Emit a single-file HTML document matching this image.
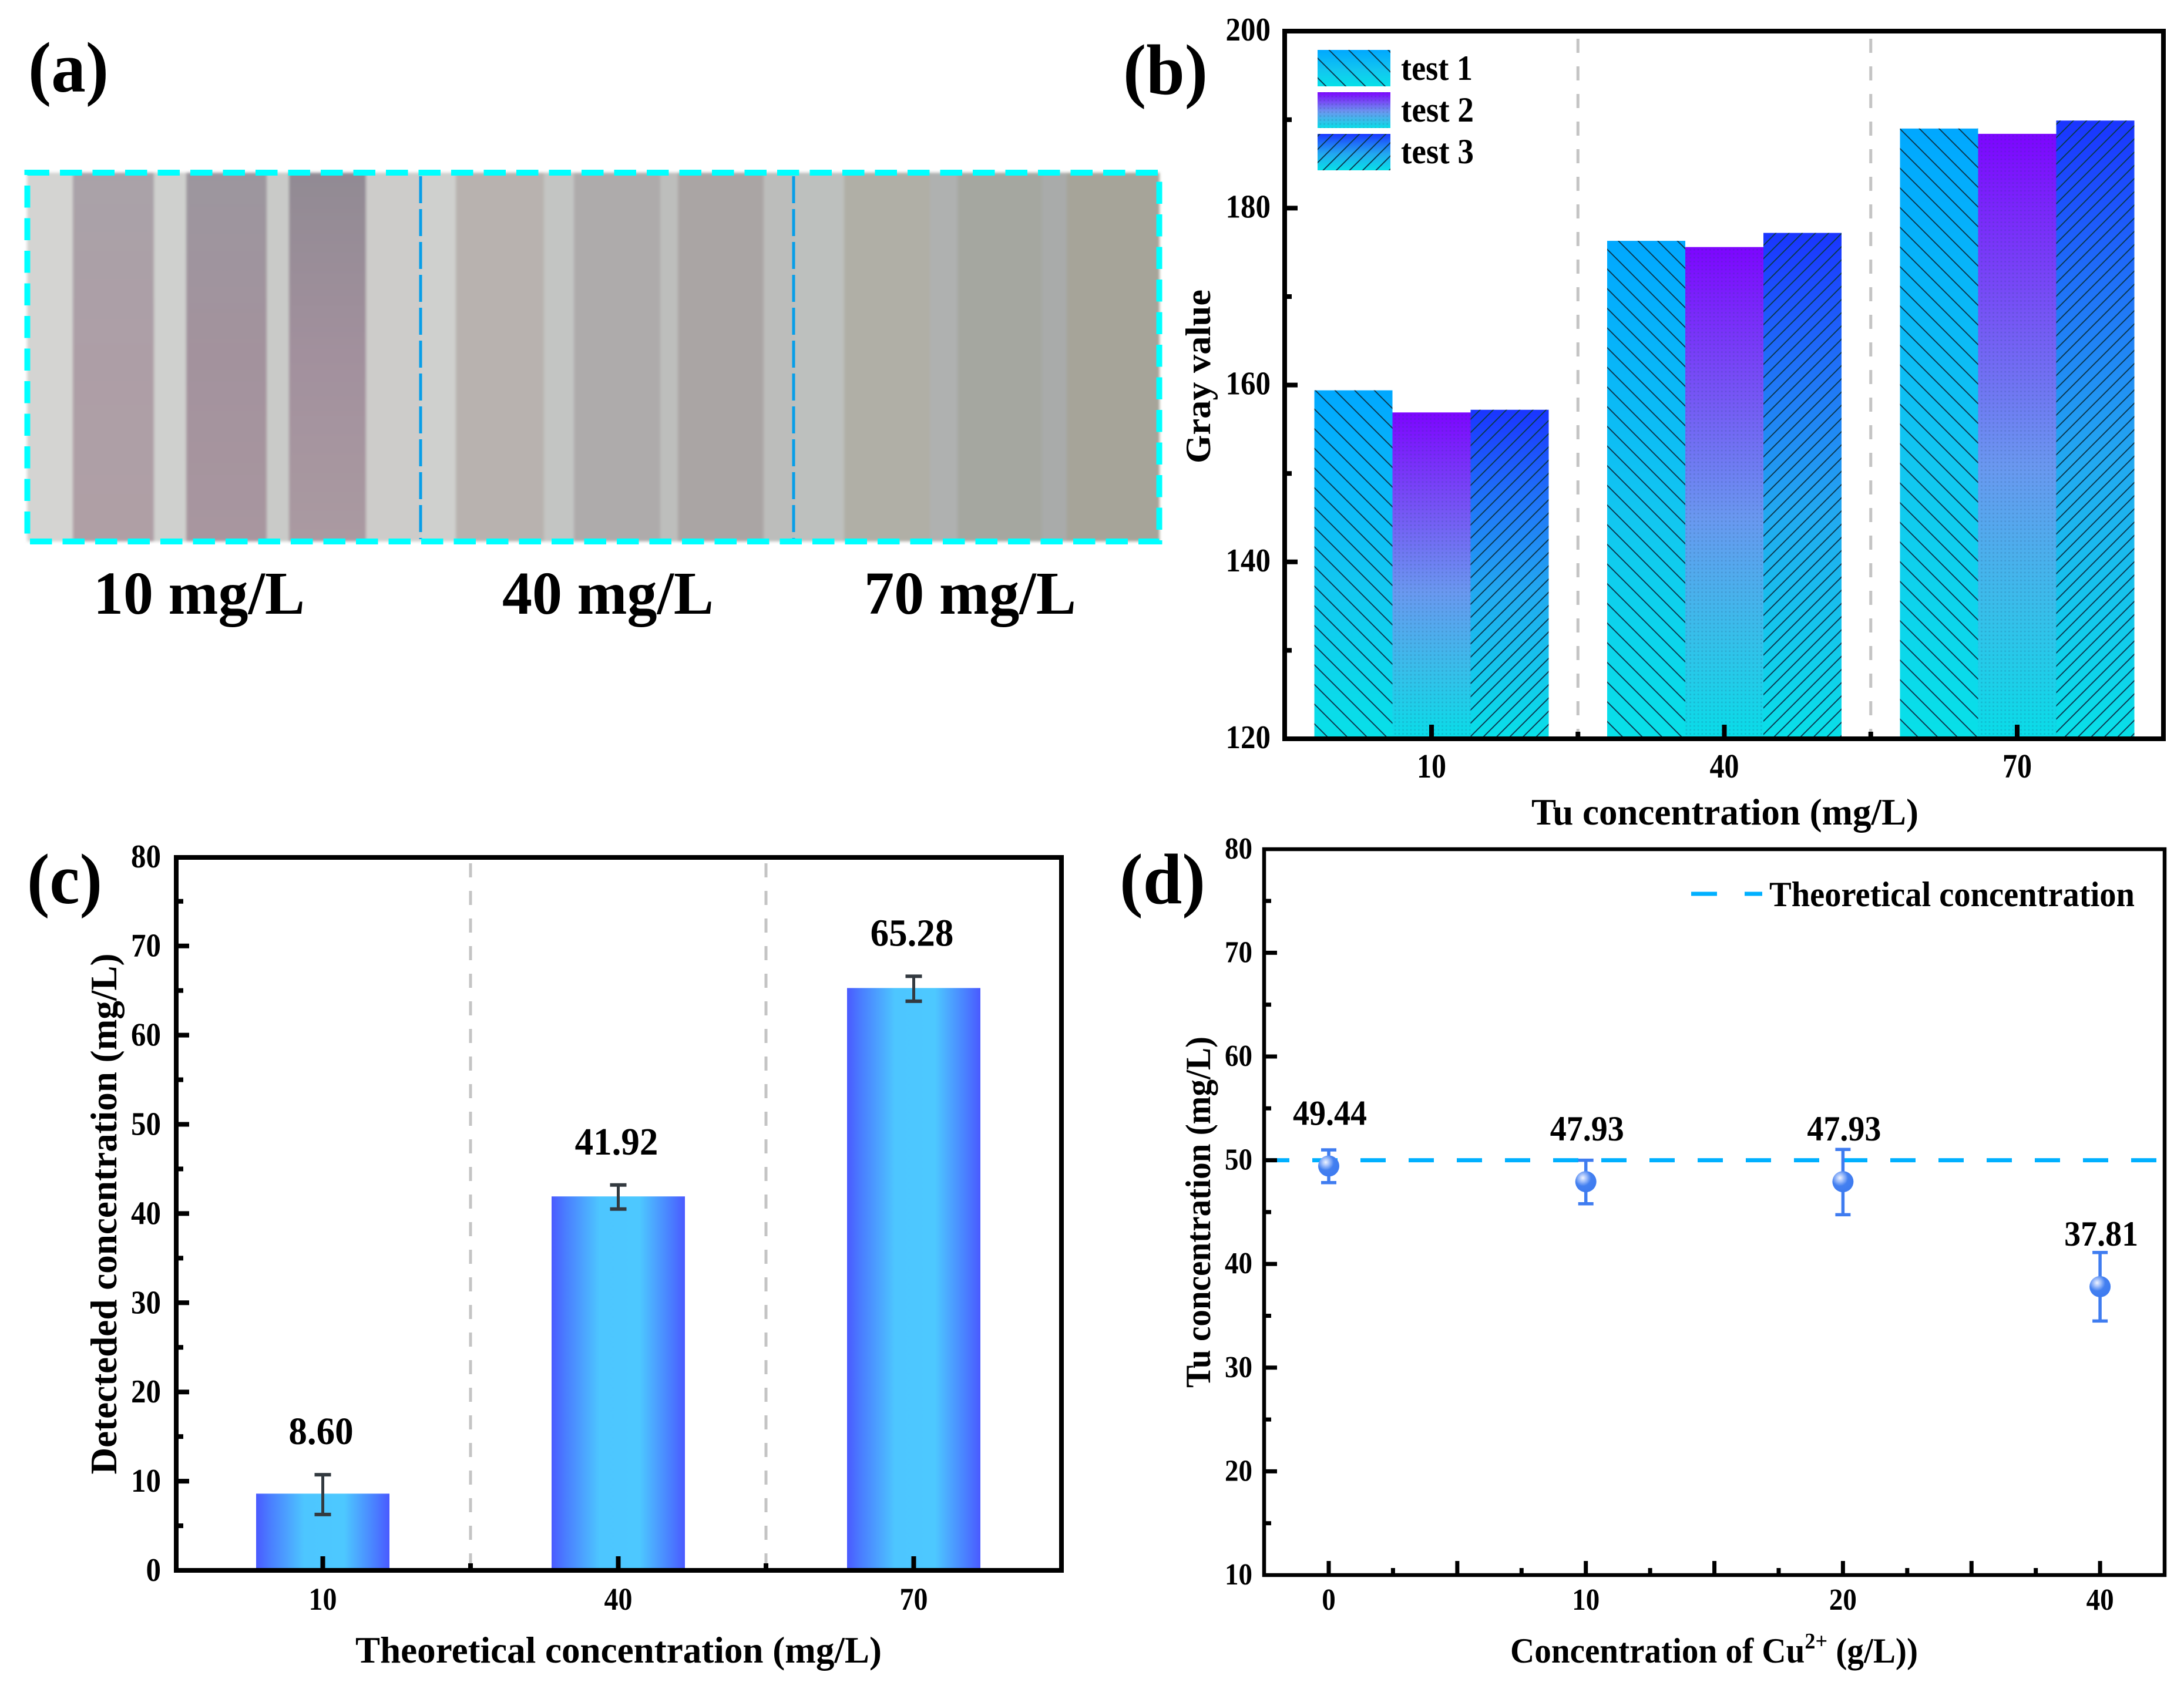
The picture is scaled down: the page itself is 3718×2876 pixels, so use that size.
<!DOCTYPE html>
<html lang="en">
<head>
<meta charset="utf-8">
<title>Tu concentration test strips and charts</title>
<style>
html,body{margin:0;padding:0;background:#fff;}
svg{display:block;}
text{font-family:"Liberation Serif",serif;font-weight:bold;fill:#000;}
</style>
</head>
<body>
<svg id="figure" xmlns="http://www.w3.org/2000/svg" width="3718" height="2876" viewBox="0 0 3718 2876">
<defs>
<filter id="soft" x="-2%" y="-2%" width="104%" height="104%"><feGaussianBlur stdDeviation="2.5"/></filter>
<linearGradient id="g1" x1="0" y1="0" x2="0" y2="1"><stop offset="0" stop-color="#00a8ff"/><stop offset="0.55" stop-color="#12c6f0"/><stop offset="1" stop-color="#08e0e8"/></linearGradient>
<linearGradient id="g2" x1="0" y1="0" x2="0" y2="1"><stop offset="0" stop-color="#7d05ff"/><stop offset="0.3" stop-color="#7655f5"/><stop offset="0.55" stop-color="#6a98f0"/><stop offset="0.8" stop-color="#35c0ea"/><stop offset="1" stop-color="#08dde8"/></linearGradient>
<linearGradient id="g3" x1="0" y1="0" x2="0" y2="1"><stop offset="0" stop-color="#1a35ff"/><stop offset="0.25" stop-color="#1f6ef8"/><stop offset="0.55" stop-color="#22a8f0"/><stop offset="1" stop-color="#08e0e8"/></linearGradient>
<linearGradient id="gc" x1="0" y1="0" x2="1" y2="0"><stop offset="0" stop-color="#4a5aff"/><stop offset="0.1" stop-color="#4a7cff"/><stop offset="0.36" stop-color="#4dc6ff"/><stop offset="0.66" stop-color="#4dc8ff"/><stop offset="0.9" stop-color="#4a7cff"/><stop offset="1" stop-color="#4a5aff"/></linearGradient>
<radialGradient id="ball" cx="0.36" cy="0.32" r="0.62"><stop offset="0" stop-color="#f0f4ff"/><stop offset="0.3" stop-color="#9dbcfa"/><stop offset="0.62" stop-color="#4480f0"/><stop offset="1" stop-color="#3f7cf0"/></radialGradient>
<pattern id="hatch1" patternUnits="userSpaceOnUse" width="33.5" height="33.5"><path d="M-8,-8 L41.5,41.5 M-8,25.5 L8,41.5 M25.5,-8 L41.5,8" stroke="#0a3850" stroke-width="1.9" fill="none"/></pattern>
<pattern id="hatch2" patternUnits="userSpaceOnUse" width="6.7" height="6.7"><rect x="2" y="2" width="2.7" height="2.7" fill="#14406a" opacity="0.18"/></pattern>
<pattern id="hatch3" patternUnits="userSpaceOnUse" width="22.5" height="22.5"><path d="M-6,28.5 L28.5,-6 M-6,6 L6,-6 M16.5,28.5 L28.5,16.5" stroke="#0a3850" stroke-width="1.9" fill="none"/></pattern>
<linearGradient id="s1" x1="0" y1="0" x2="0" y2="1"><stop offset="0" stop-color="#a9a2a8"/><stop offset="0.5" stop-color="#ad9ea6"/><stop offset="1" stop-color="#af9fa5"/></linearGradient>
<linearGradient id="s2" x1="0" y1="0" x2="0" y2="1"><stop offset="0" stop-color="#9c969e"/><stop offset="0.5" stop-color="#a3929d"/><stop offset="1" stop-color="#a8969f"/></linearGradient>
<linearGradient id="s3" x1="0" y1="0" x2="0" y2="1"><stop offset="0" stop-color="#918a93"/><stop offset="0.5" stop-color="#a2909d"/><stop offset="1" stop-color="#aa9aa1"/></linearGradient>
</defs>

<rect x="0" y="0" width="3718" height="2876" fill="#fff"/>

<!-- Panel (a): photo of test strips -->
<g id="panel-a">
<text x="48" y="156" font-size="122" textLength="137" lengthAdjust="spacingAndGlyphs">(a)</text>
<g filter="url(#soft)">
<rect x="46" y="294" width="80" height="628" fill="#d4d4d2"/>
<rect x="124" y="294" width="138" height="628" fill="url(#s1)"/>
<rect x="262" y="294" width="55" height="628" fill="#cfd0ce"/>
<rect x="317" y="294" width="137" height="628" fill="url(#s2)"/>
<rect x="454" y="294" width="38" height="628" fill="#c9cac8"/>
<rect x="492" y="294" width="131" height="628" fill="url(#s3)"/>
<rect x="623" y="294" width="93" height="628" fill="#cdccca"/>
<rect x="716" y="294" width="60" height="628" fill="#cfd0ce"/>
<rect x="776" y="294" width="150" height="628" fill="#b8b2af"/>
<rect x="926" y="294" width="51" height="628" fill="#c3c5c3"/>
<rect x="977" y="294" width="147" height="628" fill="#aeabab"/>
<rect x="1124" y="294" width="30" height="628" fill="#bdbebc"/>
<rect x="1154" y="294" width="146" height="628" fill="#aaa5a4"/>
<rect x="1300" y="294" width="52" height="628" fill="#bcbdbb"/>
<rect x="1352" y="294" width="85" height="628" fill="#bdc0be"/>
<rect x="1437" y="294" width="146" height="628" fill="#b0afa6"/>
<rect x="1583" y="294" width="47" height="628" fill="#afb1b0"/>
<rect x="1630" y="294" width="144" height="628" fill="#a5a7a0"/>
<rect x="1774" y="294" width="42" height="628" fill="#a9abaa"/>
<rect x="1816" y="294" width="158" height="628" fill="#a6a499"/>
</g>
<line x1="716" y1="300" x2="716" y2="918" stroke="#079ee8" stroke-width="5" stroke-dasharray="46 10"/>
<line x1="1351" y1="300" x2="1351" y2="918" stroke="#079ee8" stroke-width="5" stroke-dasharray="46 10"/>
<rect x="46.5" y="294" width="1927" height="628" fill="none" stroke="#00ffff" stroke-width="10" stroke-dasharray="37.5 18"/>
<text x="159" y="1045" font-size="104" textLength="360" lengthAdjust="spacingAndGlyphs">10 mg/L</text>
<text x="855" y="1045" font-size="104" textLength="360" lengthAdjust="spacingAndGlyphs">40 mg/L</text>
<text x="1471" y="1045" font-size="104" textLength="361" lengthAdjust="spacingAndGlyphs">70 mg/L</text>
</g>

<!-- Panel (b) -->
<g id="panel-b">
<text x="1912" y="160" font-size="122" textLength="144" lengthAdjust="spacingAndGlyphs">(b)</text>
<g id="b-marks"></g>
<rect x="2187" y="53" width="1496" height="1205" fill="none" stroke="#000" stroke-width="8"/>
<g id="b-axes"></g>
<text transform="translate(2060,641) rotate(-90)" text-anchor="middle" font-size="60" textLength="296" lengthAdjust="spacingAndGlyphs">Gray value</text>
<text x="2607" y="1404" font-size="64" textLength="659" lengthAdjust="spacingAndGlyphs">Tu concentration (mg/L)</text>
<g>
<rect x="2243" y="85" width="124" height="62" fill="url(#g1)"/>
<rect x="2243" y="85" width="124" height="62" fill="url(#hatch1)"/>
<text x="2385" y="136" font-size="60" textLength="122" lengthAdjust="spacingAndGlyphs">test 1</text>
<rect x="2243" y="157" width="124" height="61" fill="url(#g2)"/>
<rect x="2243" y="157" width="124" height="61" fill="url(#hatch2)"/>
<text x="2385" y="207" font-size="60" textLength="124" lengthAdjust="spacingAndGlyphs">test 2</text>
<rect x="2243" y="228" width="124" height="62" fill="url(#g3)"/>
<rect x="2243" y="228" width="124" height="62" fill="url(#hatch3)"/>
<text x="2385" y="278" font-size="60" textLength="124" lengthAdjust="spacingAndGlyphs">test 3</text>
</g>
</g>

<!-- Panel (c) -->
<g id="panel-c">
<text x="46" y="1538" font-size="122" textLength="128" lengthAdjust="spacingAndGlyphs">(c)</text>
<g id="c-marks"></g>
<rect x="300" y="1460" width="1507" height="1214" fill="none" stroke="#000" stroke-width="8"/>
<g id="c-axes"></g>
<text transform="translate(198,2067) rotate(-90)" text-anchor="middle" font-size="64" textLength="887" lengthAdjust="spacingAndGlyphs">Detecteded concentration (mg/L)</text>
<text x="605" y="2831" font-size="64" textLength="896" lengthAdjust="spacingAndGlyphs">Theoretical concentration (mg/L)</text>
</g>

<!-- Panel (d) -->
<g id="panel-d">
<text x="1906" y="1538" font-size="122" textLength="146" lengthAdjust="spacingAndGlyphs">(d)</text>
<g id="d-marks"></g>
<rect x="2152" y="1446" width="1533" height="1236" fill="none" stroke="#000" stroke-width="6.5"/>
<g id="d-axes"></g>
<text transform="translate(2060,2064) rotate(-90)" text-anchor="middle" font-size="60" textLength="598" lengthAdjust="spacingAndGlyphs">Tu concentration (mg/L)</text>
<text x="2571" y="2831" font-size="60" textLength="694" lengthAdjust="spacingAndGlyphs">Concentration of Cu<tspan font-size="38" dy="-24">2+</tspan><tspan dy="24"> (g/L))</tspan></text>
<g>
<line x1="2879" y1="1522" x2="2923" y2="1522" stroke="#00b0ff" stroke-width="7"/>
<line x1="2970" y1="1522" x2="3000" y2="1522" stroke="#00b0ff" stroke-width="7"/>
<text x="3012" y="1543" font-size="60" textLength="622" lengthAdjust="spacingAndGlyphs">Theoretical concentration</text>
</g>
</g>
</svg>

<script>
// Panel (b) data
const bCategories = ['10', '40', '70'];
const test1Values = [159.4, 176.3, 189.0];
const test2Values = [156.9, 175.6, 188.4];
const test3Values = [157.2, 177.2, 189.9];
const bYTicks = [120, 140, 160, 180, 200];
const bYMinorTicks = [130, 150, 170, 190];

// Panel (c) data
const cCategories = ['10', '40', '70'];
const cValues = [8.60, 41.92, 65.28];
const cErrHigh = [10.72, 43.2, 66.6];
const cErrLow = [6.26, 40.5, 63.8];
const cYTicks = [0, 10, 20, 30, 40, 50, 60, 70, 80];
const cYMinorTicks = [5, 15, 25, 35, 45, 55, 65, 75];

// Panel (d) data
const dCategories = ['0', '10', '20', '40'];
const dValues = [49.44, 47.93, 47.93, 37.81];
const dErrHigh = [51.0, 50.0, 51.04, 41.1];
const dErrLow = [47.84, 45.8, 44.75, 34.5];
const dTheoretical = [50];
const dYTicks = [10, 20, 30, 40, 50, 60, 70, 80];
const dYMinorTicks = [15, 25, 35, 45, 55, 65, 75];

const NS = 'http://www.w3.org/2000/svg';
function make(parent, tag, attrs, content) {
  const node = document.createElementNS(NS, tag);
  for (const key in attrs) node.setAttribute(key, attrs[key]);
  if (content !== undefined) node.textContent = content;
  parent.appendChild(node);
  return node;
}
// Width of a numeric string in em-units of the serif digits (digit .5, point .25)
function numWidth(str) {
  let w = 0;
  for (const ch of str) w += ch === '.' ? 0.25 : 0.5;
  return w;
}

// Axis functions
const bX = i => 2437 + i * 498.5;
const bY = v => 1258 - (v - 120) * 15.06;
const cX = i => 549.5 + i * 503;
const cY = v => 2674 - v * 15.19;
const dX = i => 2262 + i * 437.7;
const dY = v => 2682 - (v - 10) * 17.66;

// ---------- Panel b ----------
const bMarks = document.getElementById('b-marks');
const bAxes = document.getElementById('b-axes');
const bSeries = [test1Values, test2Values, test3Values];
const BAR_B = 133;

bCategories.forEach((cat, i) => {
  if (i < bCategories.length - 1) {
    const sep = make(bMarks, 'line', {x1: bX(i + 0.5), x2: bX(i + 0.5), y1: 66, y2: 1254, stroke: '#c4c4c4', 'stroke-width': 5, 'stroke-dasharray': '24 23'});
    
    
  }
  bSeries.forEach((values, s) => {
    const left = bX(i) + (s - 1.5) * BAR_B;
    const top = bY(values[i]);
    const bar = make(bMarks, 'rect', {x: left, y: top, width: BAR_B, height: bY(120) - top, fill: 'url(#g' + (s + 1) + ')'});
    
    
    const hatch = make(bMarks, 'rect', {x: left, y: top, width: BAR_B, height: bY(120) - top, fill: 'url(#hatch' + (s + 1) + ')'});
    
    
  });
  const tick = make(bAxes, 'line', {x1: bX(i), x2: bX(i), y1: 1258, y2: 1234, stroke: '#000', 'stroke-width': 8});
  
  
  const label = make(bAxes, 'text', {x: bX(i), y: 1324, 'text-anchor': 'middle', 'font-size': 58, textLength: numWidth(cat) * 50, lengthAdjust: 'spacingAndGlyphs'}, cat);
  
  
  if (i < bCategories.length - 1) {
    const minor = make(bAxes, 'line', {x1: bX(i + 0.5), x2: bX(i + 0.5), y1: 1258, y2: 1246, stroke: '#000', 'stroke-width': 8});
    
    
  }
});
bYTicks.forEach(v => {
  if (v !== 120 && v !== 200) {
    const tick = make(bAxes, 'line', {x1: 2187, x2: 2209, y1: bY(v), y2: bY(v), stroke: '#000', 'stroke-width': 8});
    
    
  }
  const label = make(bAxes, 'text', {x: 2163, y: bY(v) + 16, 'text-anchor': 'end', 'font-size': 56, textLength: numWidth(String(v)) * 51, lengthAdjust: 'spacingAndGlyphs'}, String(v));
  
  
});
bYMinorTicks.forEach(v => {
  const tick = make(bAxes, 'line', {x1: 2187, x2: 2199, y1: bY(v), y2: bY(v), stroke: '#000', 'stroke-width': 8});
  
  
});

// ---------- Panel c ----------
const cMarks = document.getElementById('c-marks');
const cAxes = document.getElementById('c-axes');
const BAR_C = 227;

cCategories.forEach((cat, i) => {
  if (i < cCategories.length - 1) {
    const sep = make(cMarks, 'line', {x1: cX(i + 0.5), x2: cX(i + 0.5), y1: 1470, y2: 2670, stroke: '#c4c4c4', 'stroke-width': 5, 'stroke-dasharray': '24 23'});
    
    
  }
  const bar = make(cMarks, 'rect', {x: cX(i) - BAR_C / 2, y: cY(cValues[i]), width: BAR_C, height: cY(0) - cY(cValues[i]), fill: 'url(#gc)'});
  
  
  const stem = make(cMarks, 'line', {x1: cX(i), x2: cX(i), y1: cY(cErrHigh[i]), y2: cY(cErrLow[i]), stroke: '#333a40', 'stroke-width': 5});
  
  
  [cErrHigh[i], cErrLow[i]].forEach(e => {
    const cap = make(cMarks, 'line', {x1: cX(i) - 14, x2: cX(i) + 14, y1: cY(e), y2: cY(e), stroke: '#333a40', 'stroke-width': 6});
    
    
  });
  const cLabelText = cValues[i].toFixed(2);
  const value = make(cMarks, 'text', {x: cX(i) - 3, y: cY(cErrHigh[i]) - 52, 'text-anchor': 'middle', 'font-size': 66, textLength: numWidth(cLabelText) * 63, lengthAdjust: 'spacingAndGlyphs'}, cLabelText);
  
  
  const tick = make(cAxes, 'line', {x1: cX(i), x2: cX(i), y1: 2674, y2: 2650, stroke: '#000', 'stroke-width': 8});
  
  
  const label = make(cAxes, 'text', {x: cX(i), y: 2741, 'text-anchor': 'middle', 'font-size': 54, textLength: numWidth(cat) * 48, lengthAdjust: 'spacingAndGlyphs'}, cat);
  
  
  if (i < cCategories.length - 1) {
    const minor = make(cAxes, 'line', {x1: cX(i + 0.5), x2: cX(i + 0.5), y1: 2674, y2: 2662, stroke: '#000', 'stroke-width': 8});
    
    
  }
});
cYTicks.forEach(v => {
  if (v !== 0 && v !== 80) {
    const tick = make(cAxes, 'line', {x1: 300, x2: 322, y1: cY(v), y2: cY(v), stroke: '#000', 'stroke-width': 8});
    
    
  }
  const label = make(cAxes, 'text', {x: 274, y: cY(v) + 18, 'text-anchor': 'end', 'font-size': 56, textLength: numWidth(String(v)) * 51, lengthAdjust: 'spacingAndGlyphs'}, String(v));
  
  
});
cYMinorTicks.forEach(v => {
  const tick = make(cAxes, 'line', {x1: 300, x2: 312, y1: cY(v), y2: cY(v), stroke: '#000', 'stroke-width': 8});
  
  
});

// ---------- Panel d ----------
const dMarks = document.getElementById('d-marks');
const dAxes = document.getElementById('d-axes');

const refLine = make(dMarks, 'line', {x1: 2152, x2: 3678, y1: dY(dTheoretical[0]), y2: dY(dTheoretical[0]), stroke: '#00b0ff', 'stroke-width': 7, 'stroke-dasharray': '43 39'});



dCategories.forEach((cat, i) => {
  const stem = make(dMarks, 'line', {x1: dX(i), x2: dX(i), y1: dY(dErrHigh[i]), y2: dY(dErrLow[i]), stroke: '#3f7cf0', 'stroke-width': 5.5});
  
  
  [dErrHigh[i], dErrLow[i]].forEach(e => {
    const cap = make(dMarks, 'line', {x1: dX(i) - 13, x2: dX(i) + 13, y1: dY(e), y2: dY(e), stroke: '#3f7cf0', 'stroke-width': 5.5});
    
    
  });
  const point = make(dMarks, 'circle', {cx: dX(i), cy: dY(dValues[i]), r: 18, fill: 'url(#ball)'});
  
  
  const dLabelText = dValues[i].toFixed(2);
  const value = make(dMarks, 'text', {x: dX(i) + 2, y: dY(dValues[i]) - 70, 'text-anchor': 'middle', 'font-size': 60, textLength: numWidth(dLabelText) * 56, lengthAdjust: 'spacingAndGlyphs'}, dLabelText);
  
  
  const tick = make(dAxes, 'line', {x1: dX(i), x2: dX(i), y1: 2682, y2: 2658, stroke: '#000', 'stroke-width': 7});
  
  
  const label = make(dAxes, 'text', {x: dX(i), y: 2741, 'text-anchor': 'middle', 'font-size': 52, textLength: numWidth(cat) * 47, lengthAdjust: 'spacingAndGlyphs'}, cat);
  
  
  if (i < dCategories.length - 1) {
    const mid = make(dAxes, 'line', {x1: dX(i + 0.5), x2: dX(i + 0.5), y1: 2682, y2: 2658, stroke: '#000', 'stroke-width': 7});
    
    
    [0.25, 0.75].forEach(q => {
      const minor = make(dAxes, 'line', {x1: dX(i + q), x2: dX(i + q), y1: 2682, y2: 2670, stroke: '#000', 'stroke-width': 7});
      
      
    });
  }
});
dYTicks.forEach(v => {
  if (v !== 10 && v !== 80) {
    const tick = make(dAxes, 'line', {x1: 2152, x2: 2174, y1: dY(v), y2: dY(v), stroke: '#000', 'stroke-width': 7});
    
    
  }
  const label = make(dAxes, 'text', {x: 2132, y: dY(v) + 16, 'text-anchor': 'end', 'font-size': 52, textLength: numWidth(String(v)) * 47, lengthAdjust: 'spacingAndGlyphs'}, String(v));
  
  
});
dYMinorTicks.forEach(v => {
  const tick = make(dAxes, 'line', {x1: 2152, x2: 2164, y1: dY(v), y2: dY(v), stroke: '#000', 'stroke-width': 7});
  
  
});
</script>
</body>
</html>
